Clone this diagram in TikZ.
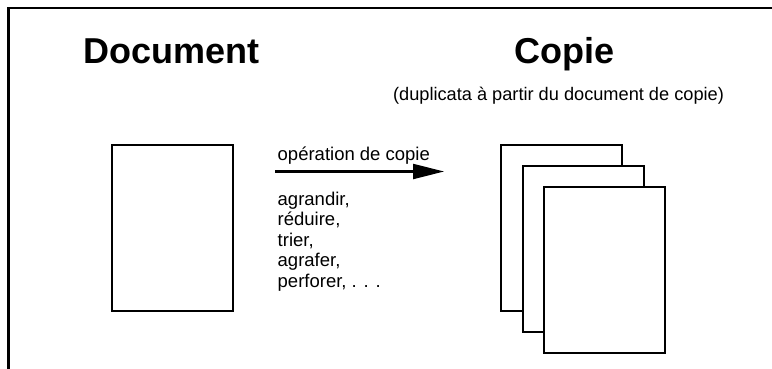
\documentclass[tikz,border=0pt]{standalone}
\usepackage{fontspec}
\setmainfont{Liberation Sans}
\usetikzlibrary{arrows.meta}
\begin{document}
\begin{tikzpicture}[x=1pt,y=-1pt,
  sheet/.style={draw=black,line width=2.2pt,fill=white,minimum width=121pt,minimum height=166pt,inner sep=0pt,anchor=north west},
  heading/.style={font=\fontsize{36}{40}\selectfont\bfseries,inner sep=0pt,anchor=base},
  small/.style={font=\fontsize{18.5}{20.5}\selectfont,inner sep=0pt},
  frame/.style={line width=2.2pt}]
  \useasboundingbox (0,0) rectangle (772,368);
  % outer frame (top and left edges)
  \coordinate (fbl) at (8.5,370);
  \coordinate (ftl) at (8.5,8);
  \coordinate (ftr) at (774,8);
  \draw[frame] (fbl) -- (ftl) -- (ftr);
  % headings
  \node[heading] (hdoc) at (171.5,63) {Document};
  \node[heading] (hcop) at (564.5,63) {Copie};
  \node[small,font=\fontsize{18.2}{20.5}\selectfont,anchor=base] (sub) at (558.5,100) {(duplicata à partir du document de copie)};
  % original document
  \node[sheet] (doc) at (111,144) {};
  % stack of copies
  \node[sheet] (c1) at (500,144) {};
  \node[sheet] (c2) at (521.5,165) {};
  \node[sheet] (c3) at (543,186) {};
  % copy operation arrow
  \coordinate (as) at (275,171.5);
  \coordinate (ae) at (444,171.5);
  \draw[line width=2.2pt,-{Triangle[length=31pt,width=15pt]}] (as) -- (ae);
  \node[small,anchor=base west] (op) at (277.5,160.7) {opération de copie};
  \node[small,anchor=north west,align=left] (list) at (277.5,191.5)
    {agrandir,\\réduire,\\trier,\\agrafer,\\perforer, . . .};
\end{tikzpicture}
\end{document}
